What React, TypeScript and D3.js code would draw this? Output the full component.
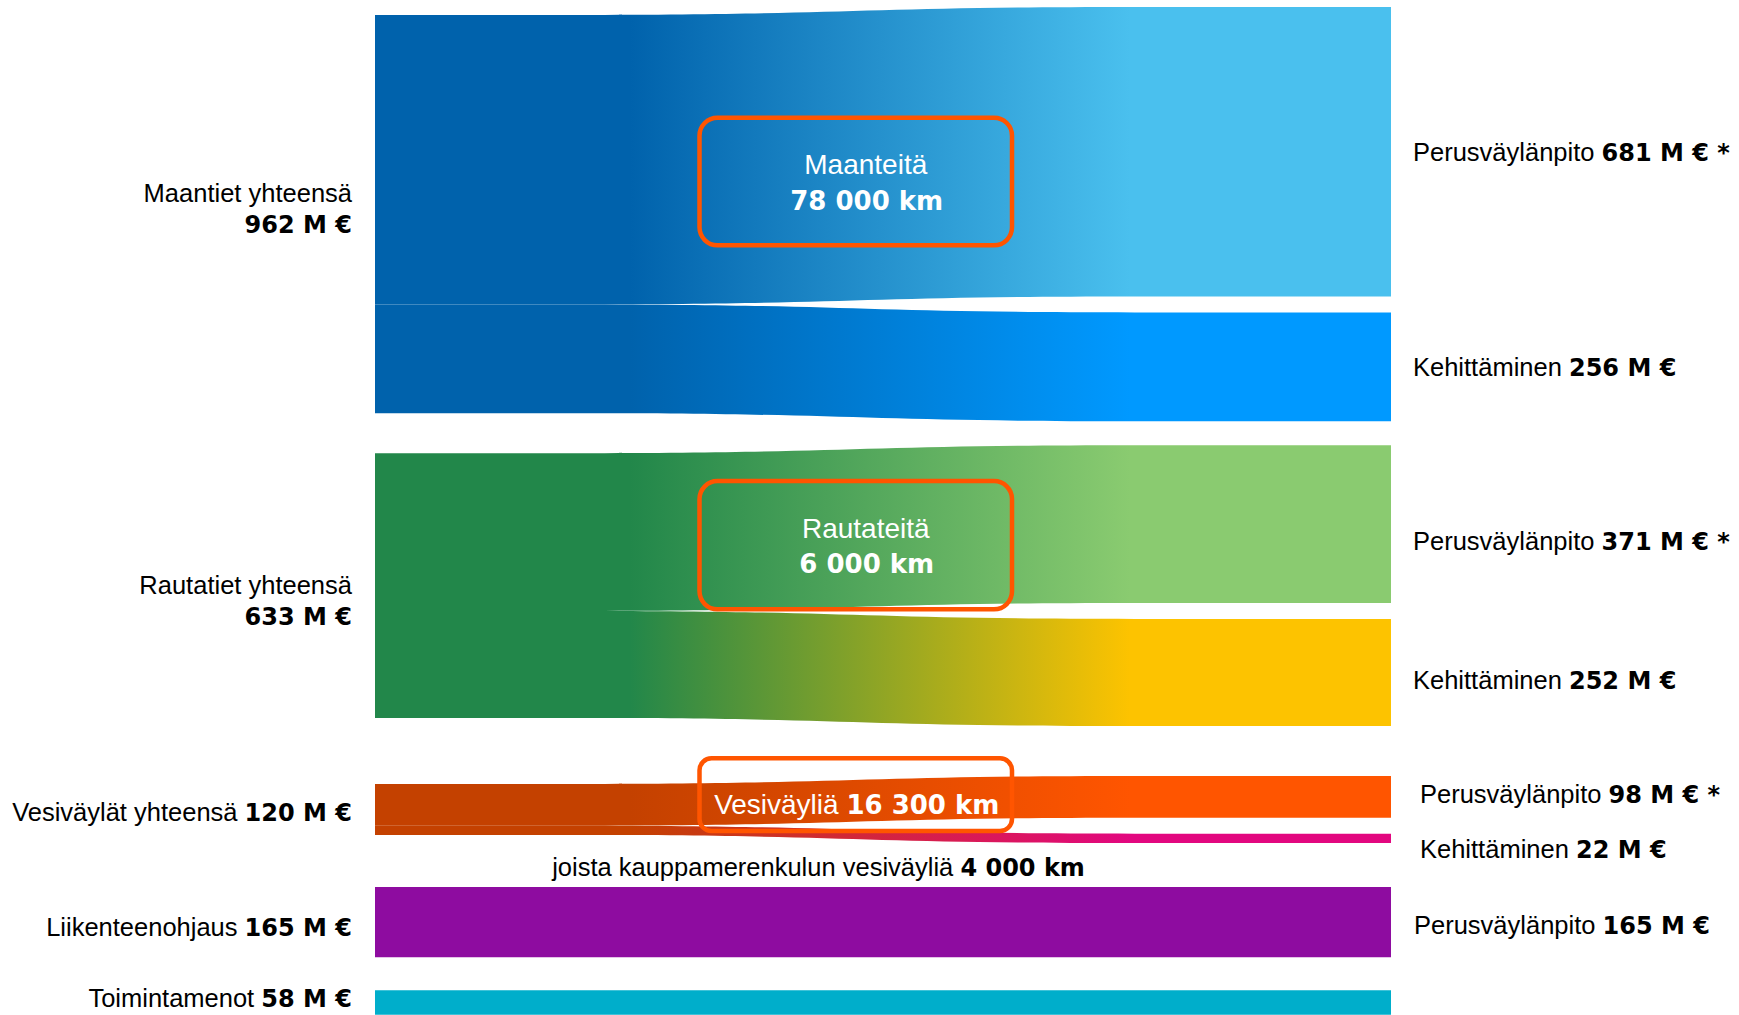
import React from 'react';
import * as d3 from 'd3';

// ---------------- DATA ----------------
const groupLabels = ['Maantiet yhteensä', 'Rautatiet yhteensä', 'Vesiväylät yhteensä', 'Liikenteenohjaus', 'Toimintamenot'];
const groupTotals = [962, 633, 120, 165, 58];

const flowGroup = [0, 0, 1, 1, 2, 2, 3, 4];
const flowTarget = ['Perusväylänpito', 'Kehittäminen', 'Perusväylänpito', 'Kehittäminen', 'Perusväylänpito', 'Kehittäminen', 'Perusväylänpito', ''];
const flowValue = [681, 256, 371, 252, 98, 22, 165, 58];
const flowNote = ['*', '', '*', '', '*', '', '', ''];

const networkNames = ['Maanteitä', 'Rautateitä', 'Vesiväyliä'];
const networkLengths = ['78 000 km', '6 000 km', '16 300 km'];
const subNoteText = 'joista kauppamerenkulun vesiväyliä';
const subNoteValue = '4 000 km';

// ---------------- STYLE / LAYOUT ----------------
const W = 1739;
const H = 1015;
const X_LEFT = 375;
const X_RIGHT = 1391;
const CURVE_START = 575;
const CURVE_END = 1135;
const TOP = 15;
const GROUP_GAPS = [40, 66, 52, 33];
const RIGHT_GAP = 16;

const flowColorFrom = ['#0062AC', '#0062AC', '#22874A', '#22874A', '#C44100', '#C44100', '#8E0CA0', '#00AECB'];
const flowColorTo = ['#4AC0EE', '#0099FF', '#8ACB70', '#FDC300', '#FF5500', '#E2077F', '#8E0CA0', '#00AECB'];
const GRAD_X1 = 630;
const GRAD_X2 = 1130;

const leftLabelDy = [[-12, 19], [8.7, 39.7], [11.5], [14], [5]];
const rightLabelDy = [9.3, 9.2, 26.3, 17, 6, 20, 12, 0];
const rightLabelDx = [0, 0, 0, 0, 7, 7, 1, 0];

const boxTopOffset = [-96.4, -104.6, -51.2];
const boxHeight = [127.6, 128.3, 72.7];
const boxRx = [18, 18, 12];
const BOX_CX = 855.75;
const BOX_W = 312.5;

const REG_FONT = '"Liberation Sans", Arial, sans-serif';
const BOLD_FONT = '"DejaVu Sans", Verdana, sans-serif';
const LABEL_SIZE = 25.5;
const BOLD_SIZE = 24;

const hScale = d3.scaleLinear().domain([0, 1000]).range([0, 425]);

function fmt(v: number) {
  return `${v} M €`;
}

export default function App() {
  React.useEffect(() => {
    document.body.style.margin = '0';
    document.body.style.overflow = 'hidden';
  }, []);

  const nGroups = groupLabels.length;
  const groupFlows = d3.range(nGroups).map((g) => d3.range(flowValue.length).filter((i) => flowGroup[i] === g));
  const groupHeights = groupFlows.map((fl) => d3.sum(fl, (i) => hScale(flowValue[i])));
  const groupTops: number[] = [];
  let y = TOP;
  for (let g = 0; g < nGroups; g++) {
    groupTops.push(y);
    y += groupHeights[g] + (GROUP_GAPS[g] || 0);
  }
  const groupCenters = groupTops.map((t, g) => t + groupHeights[g] / 2);

  const bands = flowValue.map(() => ({ yL0: 0, yL1: 0, yR0: 0, yR1: 0 }));
  groupFlows.forEach((fl, g) => {
    let yl = groupTops[g];
    const rightTotal = groupHeights[g] + RIGHT_GAP * (fl.length - 1);
    let yr = groupCenters[g] - rightTotal / 2;
    fl.forEach((i) => {
      const h = hScale(flowValue[i]);
      bands[i] = { yL0: yl, yL1: yl + h, yR0: yr, yR1: yr + h };
      yl += h;
      yr += h + RIGHT_GAP;
    });
  });

  const xm = (CURVE_START + CURVE_END) / 2;
  const bandPath = (b: { yL0: number; yL1: number; yR0: number; yR1: number }) => {
    const p = d3.path();
    p.moveTo(X_LEFT, b.yL0);
    p.lineTo(CURVE_START, b.yL0);
    p.bezierCurveTo(xm, b.yL0, xm, b.yR0, CURVE_END, b.yR0);
    p.lineTo(X_RIGHT, b.yR0);
    p.lineTo(X_RIGHT, b.yR1);
    p.lineTo(CURVE_END, b.yR1);
    p.bezierCurveTo(xm, b.yR1, xm, b.yL1, CURVE_START, b.yL1);
    p.lineTo(X_LEFT, b.yL1);
    p.closePath();
    return p.toString();
  };

  return (
    <svg width={W} height={H} style={{ position: 'absolute', left: 0, top: 0, display: 'block', background: '#fff' }}>
      <defs>
        {flowValue.map((_, i) => (
          <linearGradient key={i} id={`g${i}`} gradientUnits="userSpaceOnUse" x1={GRAD_X1} x2={GRAD_X2} y1={0} y2={0}>
            <stop offset="0" stopColor={flowColorFrom[i]} />
            <stop offset="1" stopColor={flowColorTo[i]} />
          </linearGradient>
        ))}
      </defs>

      {bands.map((b, i) => (
        <path key={i} d={bandPath(b)} fill={`url(#g${i})`} />
      ))}

      {groupLabels.map((lab, g) => {
        const dys = leftLabelDy[g];
        const xEnd = X_LEFT - 23;
        if (dys.length === 2) {
          return (
            <g key={g}>
              <text x={xEnd} y={groupCenters[g] + dys[0]} textAnchor="end" fontFamily={REG_FONT} fontSize={LABEL_SIZE} fill="#000">
                {lab}
              </text>
              <text x={xEnd} y={groupCenters[g] + dys[1]} textAnchor="end" fontFamily={BOLD_FONT} fontWeight="bold" fontSize={BOLD_SIZE} fill="#000">
                {fmt(groupTotals[g])}
              </text>
            </g>
          );
        }
        return (
          <text key={g} x={xEnd} y={groupCenters[g] + dys[0]} textAnchor="end" fontFamily={REG_FONT} fontSize={LABEL_SIZE} fill="#000">
            {lab + ' '}
            <tspan fontFamily={BOLD_FONT} fontWeight="bold" fontSize={BOLD_SIZE}>
              {fmt(groupTotals[g])}
            </tspan>
          </text>
        );
      })}

      {bands.map((b, i) =>
        flowTarget[i] ? (
          <text
            key={i}
            x={X_RIGHT + 22 + rightLabelDx[i]}
            y={(b.yR0 + b.yR1) / 2 + rightLabelDy[i]}
            fontFamily={REG_FONT}
            fontSize={LABEL_SIZE}
            fill="#000"
          >
            {flowTarget[i] + ' '}
            <tspan fontFamily={BOLD_FONT} fontWeight="bold" fontSize={BOLD_SIZE}>
              {fmt(flowValue[i]) + (flowNote[i] ? ' ' + flowNote[i] : '')}
            </tspan>
          </text>
        ) : null
      )}

      {networkNames.map((name, g) => {
        const top = groupCenters[g] + boxTopOffset[g];
        return (
          <g key={g}>
            <rect
              x={BOX_CX - BOX_W / 2}
              y={top}
              width={BOX_W}
              height={boxHeight[g]}
              rx={boxRx[g]}
              fill="none"
              stroke="#FF5500"
              strokeWidth={4.5}
            />
            {g < 2 ? (
              <>
                <text x={BOX_CX + 10} y={top + 56.6} textAnchor="middle" fontFamily={REG_FONT} fontSize={28} fill="#fff">
                  {name}
                </text>
                <text x={BOX_CX + 11} y={top + 92} textAnchor="middle" fontFamily={BOLD_FONT} fontWeight="bold" fontSize={26} fill="#fff">
                  {networkLengths[g]}
                </text>
              </>
            ) : (
              <text x={BOX_CX + 1} y={top + 56} textAnchor="middle" fontFamily={REG_FONT} fontSize={28} fill="#fff">
                {name + ' '}
                <tspan fontFamily={BOLD_FONT} fontWeight="bold" fontSize={26}>
                  {networkLengths[g]}
                </tspan>
              </text>
            )}
          </g>
        );
      })}

      <text x={818.5} y={groupCenters[2] + 66.5} textAnchor="middle" fontFamily={REG_FONT} fontSize={LABEL_SIZE} fill="#000">
        {subNoteText + ' '}
        <tspan fontFamily={BOLD_FONT} fontWeight="bold" fontSize={BOLD_SIZE}>
          {subNoteValue}
        </tspan>
      </text>
    </svg>
  );
}
